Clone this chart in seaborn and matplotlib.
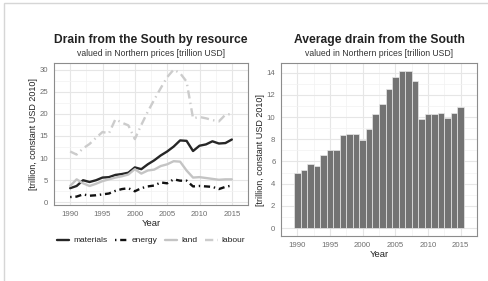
import numpy as np
import pandas as pd
import matplotlib
matplotlib.use('Agg')
import matplotlib.pyplot as plt
import seaborn as sns
from matplotlib.patches import Rectangle

# ===================== data =====================
years = list(range(1990, 2016))

materials = [3.2, 3.7, 5.0, 4.6, 5.0, 5.6, 5.7, 6.2, 6.4, 6.7, 7.9, 7.5, 8.6,
             9.5, 10.6, 11.5, 12.6, 14.0, 13.9, 11.6, 12.8, 13.1, 13.8, 13.3,
             13.4, 14.2]
energy = [1.2, 1.3, 1.8, 1.5, 1.6, 1.8, 2.0, 2.6, 3.0, 3.2, 2.5, 3.2, 3.6,
          3.8, 4.5, 4.3, 5.2, 4.9, 4.9, 3.6, 3.7, 3.6, 3.5, 3.0, 3.5, 3.8]
land = [3.7, 5.2, 4.3, 3.7, 4.2, 4.8, 5.2, 5.6, 5.9, 6.3, 7.5, 6.5, 7.2, 7.4,
        8.2, 8.6, 9.3, 9.2, 7.2, 5.6, 5.7, 5.5, 5.3, 5.1, 5.2, 5.2]
labour = [11.5, 10.8, 12.2, 13.2, 14.6, 15.9, 15.6, 18.8, 18.0, 17.4, 14.3,
          17.5, 20.5, 23.2, 25.8, 28.3, 30.0, 29.2, 27.3, 19.0, 19.3, 19.0,
          18.6, 18.3, 19.8, 20.0]

avg_drain = [4.95, 5.25, 5.75, 5.55, 6.55, 7.0, 7.0, 8.35, 8.45, 8.5, 7.9,
             8.95, 10.3, 11.2, 12.5, 13.6, 14.15, 14.15, 13.2, 9.85, 10.3,
             10.3, 10.35, 9.95, 10.4, 10.9]

resources = ['materials', 'energy', 'land', 'labour']
series = [materials, energy, land, labour]
line_colors = ['#262626', '#111111', '#c4c4c4', '#cccccc']
line_styles = ['-', (0, (0.6, 1.6, 2.6, 1.6)), '-', (0, (3.5, 1.8, 0.6, 1.8))]

# ===================== style =====================
sns.set_theme(style='white')
plt.rcParams['font.family'] = ['Liberation Sans', 'DejaVu Sans']

fig = plt.figure(figsize=(4.89, 2.81), dpi=100)
fig.patches.append(Rectangle((4 / 489, -0.05), 490 / 489, 1.05 - 3 / 281,
                             transform=fig.transFigure, fill=False,
                             edgecolor='#d6d6d6', lw=1.0))

ax1 = fig.add_axes([54 / 489, 1 - 205 / 281, 194 / 489, 142 / 281])
ax2 = fig.add_axes([281 / 489, 1 - 236 / 281, 196 / 489, 173 / 281])


def style_axes(ax, yminor):
    ax.set_facecolor('white')
    for s in ax.spines.values():
        s.set_color('#8c8c8c')
        s.set_linewidth(0.8)
    ax.set_xticks([1990, 1995, 2000, 2005, 2010, 2015])
    ax.set_xticks(np.arange(1987.5, 2018, 5), minor=True)
    ax.set_yticks(yminor, minor=True)
    ax.grid(True, which='major', color='#e6e6e6', lw=0.8)
    ax.grid(True, which='minor', color='#f2f2f2', lw=0.5)
    ax.set_axisbelow(True)
    ax.tick_params(which='major', direction='out', length=2.5, width=0.6,
                   color='#8c8c8c', labelsize=5.6, labelcolor='#6e6e6e', pad=1.5)
    ax.tick_params(which='minor', length=0)
    ax.set_xlabel('Year', fontsize=6.8, color='#222222', labelpad=1)
    ax.set_ylabel('[trillion, constant USD 2010]', fontsize=6.5,
                  color='#222222', labelpad=1.5)


# ---- left: lines by resource ----
for name, vals, c, ls in zip(resources, series, line_colors, line_styles):
    sns.lineplot(x=years, y=vals, ax=ax1, color=c, linestyle=ls, lw=1.7,
                 label=name)
ax1.set_xlim(1988.75, 2016.25)
ax1.set_ylim(-0.6, 31.5)
ax1.set_yticks([0, 5, 10, 15, 20, 25, 30])
style_axes(ax1, np.arange(2.5, 31, 5))
ax1.legend(loc='upper center', bbox_to_anchor=(0.5, -0.17), ncol=4,
           frameon=False, fontsize=6.0, handlelength=1.5, columnspacing=0.9,
           handletextpad=0.5, labelcolor='#222222')

# ---- right: average bars ----
sns.barplot(x=years, y=avg_drain, ax=ax2, native_scale=True,
            color='#737373', saturation=1, width=1.0, edgecolor='#e8e8e8',
            linewidth=0.5)
ax2.set_xlim(1988.25, 2016.75)
ax2.set_ylim(-0.71, 14.86)
ax2.set_yticks(range(0, 15, 2))
style_axes(ax2, np.arange(1, 15, 2))

# ---- titles ----
for cx, title in [(151 / 489, 'Drain from the South by resource'),
                  (379 / 489, 'Average drain from the South')]:
    fig.text(cx, 1 - 40 / 281, title, ha='center', va='center',
             fontsize=8.7, fontweight='bold', color='#222222')
    fig.text(cx, 1 - 54 / 281, 'valued in Northern prices [trillion USD]',
             ha='center', va='center', fontsize=6.2, color='#333333')

fig.savefig('out.png', dpi=100)
